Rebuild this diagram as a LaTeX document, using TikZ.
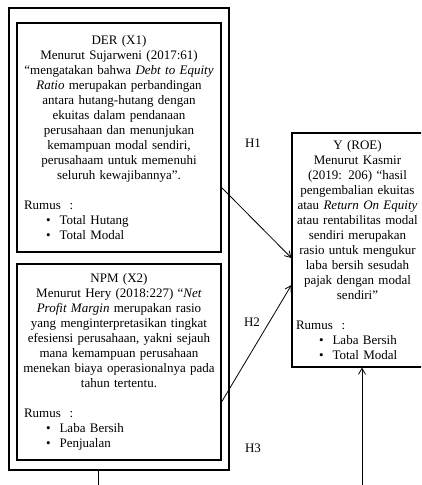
\documentclass[tikz,border=0pt]{standalone}
\usepackage{fontspec}
\setmainfont{Liberation Serif}
\usetikzlibrary{arrows.meta}
\newcommand\rumusitem[2][26pt]{\hspace*{#1}\textbullet\hspace{9pt}#2}

\begin{document}
\begin{tikzpicture}[x=1pt,y=-1pt,>={Straight Barb[length=6pt,width=7pt]},
  box/.style={draw,line width=1.1pt,inner xsep=3pt,inner ysep=0pt,font=\fontsize{13}{15}\selectfont},
  hyp/.style={font=\fontsize{13}{15}\selectfont}]
  \clip (0,0) rectangle (421,485);
  \node[draw,line width=1.1pt,minimum width=220pt,minimum height=462pt] (frame) at (119,239) {};
  \node[box,text width=198pt,minimum height=229pt] (der) at (119,137.5)
    {\centering DER (X1)\\ Menurut Sujarweni (2017:61)\\ “mengatakan bahwa \textit{Debt to Equity}\\
     \textit{Ratio} merupakan perbandingan\\ antara hutang-hutang dengan\\ ekuitas dalam pendanaan\\
     perusahaan dan menunjukan\\ kemampuan modal sendiri,\\ perusahaam untuk memenuhi\\
     seluruh kewajibannya”.\par\vspace{15pt}
     \raggedright\hspace*{4pt}Rumus\ \ :\\ \rumusitem{Total Hutang}\\ \rumusitem{Total Modal}\par};
  \node[box,text width=198pt,minimum height=196pt] (npm) at (119,362)
    {\centering NPM (X2)\\ Menurut Hery (2018:227) “\textit{Net}\\ \textit{Profit Margin} merupakan rasio\\
     yang menginterpretasikan tingkat\\ efesiensi perusahaan, yakni sejauh\\ mana kemampuan perusahaan\\
     menekan biaya operasionalnya pada\\ tahun tertentu.\par\vspace{15pt}
     \raggedright\hspace*{4pt}Rumus\ \ :\\ \rumusitem{Laba Bersih}\\ \rumusitem{Penjualan}\par};
  \node[box,text width=125pt,minimum height=234pt] (roe) at (357.5,250)
    {\centering Y (ROE)\\ Menurut Kasmir\\ (2019: 206) “hasil\\ pengembalian ekuitas\\
     atau \textit{Return On Equity}\\ atau rentabilitas modal\\ sendiri merupakan\\ rasio untuk mengukur\\
     laba bersih sesudah\\ pajak dengan modal\\ sendiri”\par\vspace{15pt}
     \raggedright\hspace*{1pt}Rumus\ \ :\\ \rumusitem[24pt]{Laba Bersih}\\ \rumusitem[24pt]{Total Modal}\par};
  \draw[->,line width=0.8pt] ([yshift=-50pt]der.east) -- ([yshift=-8pt]roe.west);
  \draw[->,line width=0.8pt] ([yshift=-40pt]npm.east) -- ([yshift=-35pt]roe.west);
  \coordinate (low) at (98,485);
  \coordinate (base) at (362,485);
  \draw[line width=0.8pt] ([xshift=-21pt]frame.south) -- (low);
  \draw[->,line width=0.8pt] (base) -- ([xshift=4.5pt]roe.south);
  \node[hyp] (h1) at (253,143) {H1};
  \node[hyp] (h2) at (252,322) {H2};
  \node[hyp] (h3) at (253,448) {H3};
\end{tikzpicture}
\end{document}
